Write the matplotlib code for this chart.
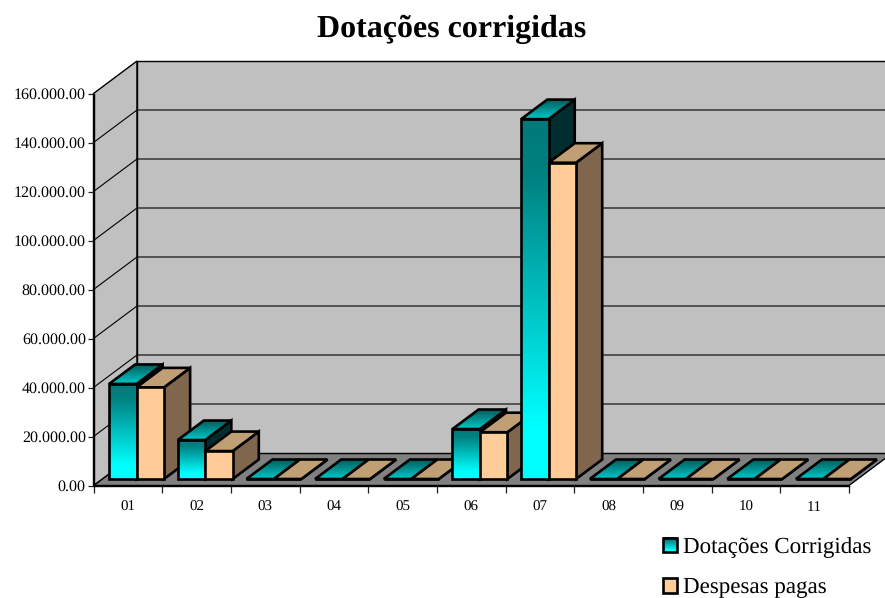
import numpy as np
import matplotlib
matplotlib.use("Agg")
import matplotlib.pyplot as plt
from matplotlib.colors import LinearSegmentedColormap
from matplotlib.patches import Polygon, Rectangle
from matplotlib.legend_handler import HandlerPatch

categories = ["01", "02", "03", "04", "05", "06", "07", "08", "09", "10", "11"]
dotacoes = [38800, 15900, 0, 0, 0, 20400, 146900, 0, 0, 0, 0]
despesas = [37400, 11400, 0, 0, 0, 19100, 129100, 0, 0, 0, 0]
y_ticks = [0, 20000, 40000, 60000, 80000, 100000, 120000, 140000, 160000]
y_labels = ["0.00", "20.000.00", "40.000.00", "60.000.00", "80.000.00",
            "100.000.00", "120.000.00", "140.000.00", "160.000.00"]
series_names = ["Dotações Corrigidas", "Despesas pagas"]
title = "Dotações corrigidas"

W, H = 885, 598
plt.rcParams["font.family"] = ["Liberation Serif", "DejaVu Serif"]
plt.rcParams["text.hinting"] = "no_hinting"
plt.rcParams["text.hinting_factor"] = 1
fig = plt.figure(figsize=(W / 100, H / 100), dpi=100, facecolor="white")
L, R, T, B = 93.5, 849.0, 93.5, 485.5
ax = fig.add_axes([L / W, 1 - B / H, (R - L) / W, (B - T) / H])
ax.set_facecolor("none")
ax.set_autoscale_on(False)
ymax = y_ticks[-1]
ncat = len(categories)
ax.set_xlim(0, ncat)
ax.set_ylim(0, ymax)

DX = 43.5 / ((R - L) / ncat)
DY = 32.5 / (B - T) * ymax


def pr(x, v, d):
    return (x + d * DX, v + d * DY)


EDGE = 1.9
front_cmap = LinearSegmentedColormap.from_list(
    "front", [(0, "#00ffff"), (0.14, "#00ffff"), (0.85, "#008080"), (1, "#007a7a")])
top_cmap = LinearSegmentedColormap.from_list("top", ["#00c8c8", "#005a5a"])
grad = np.linspace(0, 1, 128).reshape(-1, 1)


def poly(points, face, edge="black", lw=EDGE, z=3):
    p = Polygon(points, closed=True, facecolor=face, edgecolor=edge, linewidth=lw,
                joinstyle="miter", clip_on=False, zorder=z)
    ax.add_patch(p)
    return p


def gradient(points, cmap, z):
    xs, ys = zip(*points)
    if max(ys) <= min(ys):
        return
    holder = Polygon(points, closed=True, transform=ax.transData)
    im = ax.imshow(grad, cmap=cmap, origin="lower", aspect="auto", zorder=z,
                   extent=(min(xs), max(xs), min(ys), max(ys)),
                   vmin=0, vmax=1, interpolation="bilinear")
    im.set_clip_box(None)
    im.set_clip_path(holder)


# walls and floor
poly([pr(0, 0, 0), pr(ncat, 0, 0), pr(ncat, 0, 1), pr(0, 0, 1)], "#808080", lw=1, z=1)
poly([pr(0, 0, 0), pr(0, 0, 1), pr(0, ymax, 1), pr(0, ymax, 0)], "#c0c0c0", lw=1, z=1)
poly([pr(0, 0, 1), pr(ncat, 0, 1), pr(ncat, ymax, 1), pr(0, ymax, 1)], "#c0c0c0", lw=1, z=1)
for t in y_ticks[1:-1]:
    ax.plot(*zip(pr(0, t, 0), pr(0, t, 1), pr(ncat, t, 1)), color="black", lw=0.8,
            clip_on=False, zorder=2)

# bars
BAR_W = 0.4
D0, D1 = 0.2, 0.8
z = 3.0
for i in range(ncat):
    for s, vals in enumerate((dotacoes, despesas)):
        v = vals[i]
        x0 = i + 0.1 + s * BAR_W
        x1 = x0 + BAR_W
        front = [pr(x0, 0, D0), pr(x1, 0, D0), pr(x1, v, D0), pr(x0, v, D0)]
        side = [pr(x1, 0, D0), pr(x1, 0, D1), pr(x1, v, D1), pr(x1, v, D0)]
        top = [pr(x0, v, D0), pr(x1, v, D0), pr(x1, v, D1), pr(x0, v, D1)]
        if s == 0:
            poly(side, "#002e2e", z=z)
            gradient(top, top_cmap, z + 0.01)
            poly(top, "none", z=z + 0.02)
            if v > 0:
                gradient(front, front_cmap, z + 0.01)
            poly(front, "none", z=z + 0.02)
        else:
            poly(side, "#80664d", z=z)
            poly(top, "#c09f75", z=z + 0.01)
            poly(front, "#ffcc99", z=z + 0.02)
        z += 0.1

for name in ("top", "right"):
    ax.spines[name].set_visible(False)
for name in ("left", "bottom"):
    ax.spines[name].set_linewidth(1.0)
    ax.spines[name].set_zorder(2.5)

ax.set_yticks(y_ticks)
ax.set_yticklabels(y_labels)
ax.set_xticks(range(ncat + 1))
ax.set_xticklabels([])
ax.set_xticks(np.arange(ncat) + 0.5, categories, minor=True)
ax.tick_params(axis="y", length=4, width=0.9, pad=1.5, labelsize=11.6, color="#202020")
ax.tick_params(axis="x", which="major", length=5, width=0.9, color="#202020")
ax.tick_params(axis="x", which="minor", length=0, pad=18.6, labelsize=10.8)
for lab in ax.get_xticklabels(minor=True):
    lab.set_verticalalignment("baseline")
ax.set_xlim(0, ncat)
ax.set_ylim(0, ymax)

fig.text(452 / W, 1 - 29 / H, title, ha="center", va="center", fontsize=23, fontweight="bold")


class GradientHandler(HandlerPatch):
    def create_artists(self, legend, orig, xd, yd, w, h, fontsize, trans):
        out = []
        if orig.get_label() == series_names[0]:
            n = 24
            for k in range(n):
                f = k / (n - 1)
                out.append(Rectangle((-xd, -yd + h * k / n), w, h / n + 0.2,
                                     facecolor=front_cmap(f), edgecolor="none", transform=trans))
            out.append(Rectangle((-xd, -yd), w, h, facecolor="none", edgecolor="black",
                                 linewidth=EDGE, transform=trans))
        else:
            out.append(Rectangle((-xd, -yd), w, h, facecolor="#ffcc99", edgecolor="black",
                                 linewidth=EDGE, transform=trans))
        return out


handles = [Rectangle((0, 0), 1, 1, label=series_names[0]),
           Rectangle((0, 0), 1, 1, label=series_names[1])]
fig.legend(handles=handles, loc="upper left", bbox_to_anchor=(663 / W, 1 - 537 / H),
           frameon=False, fontsize=16.25, borderpad=0, borderaxespad=0,
           handlelength=0.6, handleheight=0.64, handletextpad=0.27, labelspacing=0.86,
           handler_map={Rectangle: GradientHandler()})

fig.savefig("out.png", dpi=100, facecolor="white")
